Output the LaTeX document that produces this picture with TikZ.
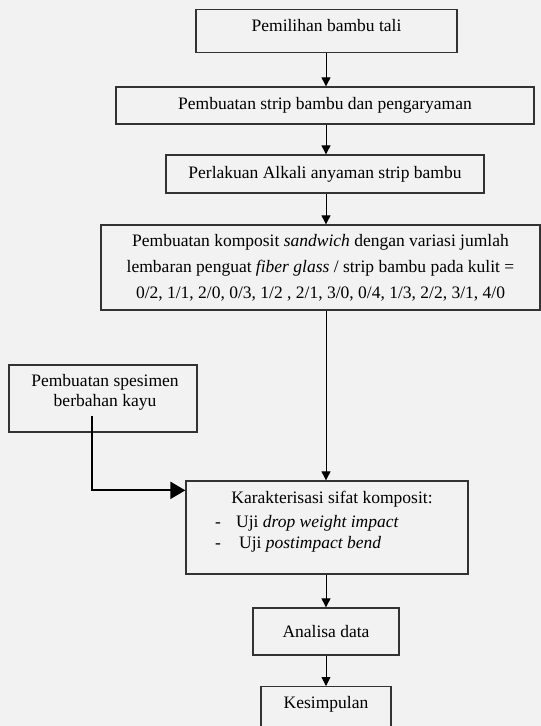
\documentclass[tikz,border=0pt]{standalone}
\usepackage{fontspec}
\setmainfont{Liberation Serif}
\usetikzlibrary{arrows.meta,calc}
\definecolor{bg}{HTML}{F2F2F2}
\definecolor{ln}{HTML}{333333}
\begin{document}
\begin{tikzpicture}[x=1pt,y=-1pt,
  box/.style={draw=ln, line width=1.3pt, fill=bg, inner sep=0pt, align=center,
              font=\fontsize{17.5}{26}\selectfont},
  arr/.style={draw=black, line width=0.9pt, -{Triangle[length=9pt,width=9pt]}},
  bigarr/.style={draw=black, line width=2.2pt, -{Triangle[length=15pt,width=17pt]}},
  txt/.style={inner sep=0pt, font=\fontsize{17.5}{22}\selectfont}]
\fill[bg] (0,0) rectangle (541,726);
\useasboundingbox (0,0) rectangle (541,726);
\clip (0,0) rectangle (541,726);
\coordinate (ax) at (326,0);

\node[box, anchor=north, minimum width=261pt, text height=22pt, text depth=21pt] (b1) at (326.5,9) {Pemilihan bambu tali};
\node[box, minimum width=418pt, minimum height=37pt] (b2) at (325,105.5) {Pembuatan strip bambu dan pengaryaman};
\node[box, minimum width=318pt, minimum height=38pt] (b3) at (325,174) {Perlakuan Alkali anyaman strip bambu};
\node[box, minimum width=439pt, minimum height=85pt] (b4) at (320.5,267.5)
  {Pembuatan komposit \textit{sandwich} dengan variasi jumlah\\
   lembaran penguat \textit{fiber glass} / strip bambu pada kulit =\\
   0/2, 1/1, 2/0, 0/3, 1/2 , 2/1, 3/0, 0/4, 1/3, 2/2, 3/1, 4/0};
\node[box, minimum width=188pt, minimum height=67pt] (b5) at (103,398.5) {};
\node[txt, align=center, font=\fontsize{17.5}{20}\selectfont] (t5) at (105,392)
  {Pembuatan spesimen\\berbahan kayu};
\node[box, minimum width=282pt, minimum height=93pt] (b6) at (327,527.5) {};
\node[txt, anchor=base] (t6a) at (332,503) {Karakterisasi sifat komposit:};
\node[txt, anchor=base] (t6b) at (218,527) {-};
\node[txt, anchor=base] (t6c) at (218,548) {-};
\node[txt, anchor=base west] (t6d) at (236,527) {Uji \textit{drop weight impact}};
\node[txt, anchor=base west] (t6e) at (239,548) {Uji \textit{postimpact bend}};
\node[box, minimum width=146pt, minimum height=47pt] (b7) at (326,631.5) {Analisa data};
\node[box, anchor=north, minimum width=130pt, text height=22pt, text depth=50pt] (b8) at (326,686) {Kesimpulan};

\draw[arr] (ax |- b1.south) -- (ax |- b2.north);
\draw[arr] (ax |- b2.south) -- (ax |- b3.north);
\draw[arr] (ax |- b3.south) -- (ax |- b4.north);
\draw[arr] (ax |- b4.south) -- (ax |- b6.north);
\draw[arr] (ax |- b6.south) -- (ax |- b7.north);
\draw[arr] (ax |- b7.south) -- (ax |- b8.north);
\draw[bigarr] ([xshift=-11pt,yshift=17pt]b5.south) |- ([yshift=-10pt]b6.north west);
\end{tikzpicture}
\end{document}
